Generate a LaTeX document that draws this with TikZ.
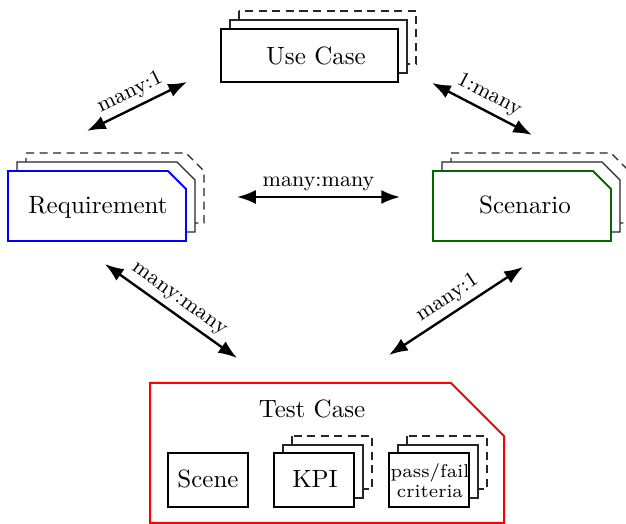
\documentclass[tikz,border=0pt]{standalone}
\usetikzlibrary{arrows.meta}
\definecolor{dgreen}{RGB}{0,105,0}
\begin{document}
\begin{tikzpicture}[x=0.4pt,y=-0.4pt,
  front/.style={draw=black, line width=0.75pt, fill=white, line join=miter},
  midlayer/.style={draw=black!85, line width=0.55pt, fill=white},
  backlayer/.style={draw=black!85, line width=0.55pt, fill=white, dash pattern=on 3.2pt off 2.2pt},
  lbl/.style={font=\fontsize{10}{12}\selectfont, inner sep=0pt, anchor=base},
  rel/.style={line width=0.95pt, {Latex[length=7.5pt,width=5.6pt]}-{Latex[length=7.5pt,width=5.6pt]}},
  rellbl/.style={font=\fontsize{8.6}{10}\selectfont, sloped, above, inner sep=2pt, midway}]
\useasboundingbox (0,0) rectangle (626,524);
\clip (0,0) rectangle (626,524);

% Use Case
\draw[backlayer] (239,11) rectangle (416,64);
\draw[midlayer] (230,20) rectangle (407,73);
\draw[front] (221,29) rectangle (398,82);
\node[lbl] (uc) at (316,65) {Use Case};

% Requirement
\draw[backlayer] (26,153) -- (186,153) -- (204,171) -- (204,223) -- (26,223) -- cycle;
\draw[midlayer] (17,162) -- (177,162) -- (195,180) -- (195,232) -- (17,232) -- cycle;
\draw[front, draw=blue] (8,171) -- (168,171) -- (186,189) -- (186,241) -- (8,241) -- cycle;
\node[lbl] (req) at (98,214) {Requirement};

% Scenario
\draw[backlayer] (451,153) -- (611,153) -- (629,171) -- (629,223) -- (451,223) -- cycle;
\draw[midlayer] (442,162) -- (602,162) -- (620,180) -- (620,232) -- (442,232) -- cycle;
\draw[front, draw=dgreen] (433,171) -- (593,171) -- (611,189) -- (611,241) -- (433,241) -- cycle;
\node[lbl] (sce) at (525,214) {Scenario};

% Test Case
\draw[front, draw=red, fill=none, line width=0.8pt] (150,523) -- (150,383) -- (451,383) -- (504,436) -- (504,523) -- cycle;
\node[lbl] (tc) at (312,418) {Test Case};

% Scene
\draw[front] (168,453) rectangle (248,507);
\node[lbl] (scene) at (208,488) {Scene};

% KPI
\draw[backlayer] (292,436) rectangle (372,489);
\draw[midlayer] (283,445) rectangle (363,498);
\draw[front] (274,453) rectangle (354,507);
\node[lbl] (kpi) at (315,488) {KPI};

% pass/fail criteria
\draw[backlayer] (407,436) rectangle (487,489);
\draw[midlayer] (398,445) rectangle (478,498);
\draw[front] (389,453) rectangle (469,507);
\node[font=\fontsize{7.4}{8}\selectfont, align=center, inner sep=0pt] (pf) at (430,481) {pass/fail\\criteria};

% connector end points
\coordinate (a1s) at (87,131);  \coordinate (a1e) at (187,82);
\coordinate (a2s) at (432,83);  \coordinate (a2e) at (532,135);
\coordinate (a3s) at (237,197); \coordinate (a3e) at (400,197);
\coordinate (a4s) at (105,264); \coordinate (a4e) at (237,358);
\coordinate (a5s) at (389,355); \coordinate (a5e) at (523,267);

\draw[rel] (a1s) -- node[rellbl] (l1) {many:1} (a1e);
\draw[rel] (a2s) -- node[rellbl] (l2) {1:many} (a2e);
\draw[rel] (a3s) -- node[rellbl] (l3) {many:many} (a3e);
\draw[rel] (a4s) -- node[rellbl] (l4) {many:many} (a4e);
\draw[rel] (a5s) -- node[rellbl] (l5) {many:1} (a5e);
\end{tikzpicture}
\end{document}
